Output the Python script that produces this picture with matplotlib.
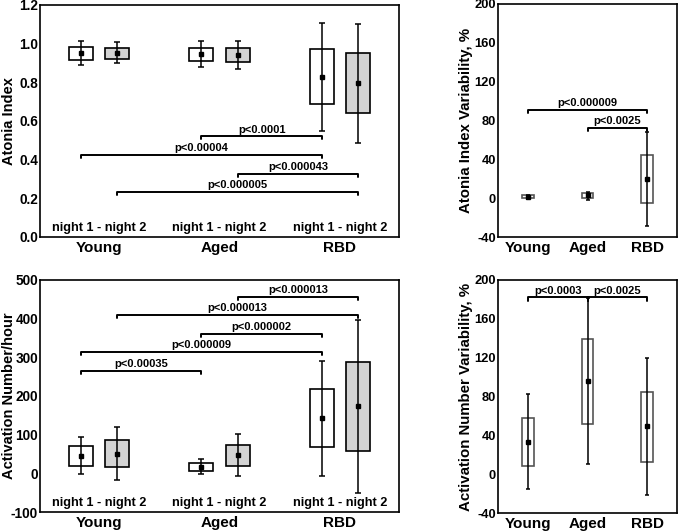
import matplotlib
matplotlib.use('Agg')
import matplotlib.pyplot as plt
import numpy as np

plt.rcParams['font.family'] = ['Liberation Sans', 'DejaVu Sans']
plt.rcParams['font.weight'] = 'bold'

groups = ['Young', 'Aged', 'RBD']

# Atonia index, night 1 / night 2
ai_n1_mean = [0.952, 0.946, 0.827]
ai_n1_blo = [0.917, 0.910, 0.686]
ai_n1_bhi = [0.983, 0.979, 0.972]
ai_n1_wlo = [0.888, 0.877, 0.549]
ai_n1_whi = [1.014, 1.014, 1.107]
ai_n2_mean = [0.952, 0.941, 0.796]
ai_n2_blo = [0.922, 0.903, 0.639]
ai_n2_bhi = [0.979, 0.979, 0.950]
ai_n2_wlo = [0.900, 0.869, 0.487]
ai_n2_whi = [1.007, 1.014, 1.100]

# Activation number/hour, night 1 / night 2
an_n1_mean = [46, 17.6, 142]
an_n1_blo = [20, 7, 67]
an_n1_bhi = [71, 26, 217]
an_n1_wlo = [-3, -1, -6]
an_n1_whi = [95, 36, 290]
an_n2_mean = [51, 47, 173]
an_n2_blo = [17, 19, 59]
an_n2_bhi = [86, 74, 287]
an_n2_wlo = [-16, -7, -51]
an_n2_whi = [119, 101, 396]

# variability, %
aiv_mean = [1.5, 2.8, 19.6]
aiv_blo = [0.3, 0.0, -5.0]
aiv_bhi = [2.8, 5.5, 44.7]
aiv_wlo = [-0.5, -1.7, -29.0]
aiv_whi = [3.5, 6.5, 68.0]
anv_mean = [33.4, 95.7, 49.2]
anv_blo = [8.6, 52.0, 13.0]
anv_bhi = [58.2, 139.0, 85.0]
anv_wlo = [-15.0, 10.0, -21.0]
anv_whi = [82.6, 181.4, 119.4]

# brackets: ((group, night), (group, night), y, text)
ai_brackets = [((1, 0), (2, 0), 0.52, 'p<0.0001'),
               ((0, 0), (2, 0), 0.423, 'p<0.00004'),
               ((1, 1), (2, 1), 0.328, 'p<0.000043'),
               ((0, 1), (2, 1), 0.233, 'p<0.000005')]
an_brackets = [((0, 0), (1, 0), 265, 'p<0.00035'),
               ((0, 0), (2, 0), 314, 'p<0.000009'),
               ((1, 0), (2, 0), 361, 'p<0.000002'),
               ((0, 1), (2, 1), 410, 'p<0.000013'),
               ((1, 1), (2, 1), 457, 'p<0.000013')]
aiv_brackets = [(0, 2, 91, 'p<0.000009'), (1, 2, 72, 'p<0.0025')]
anv_brackets = [(0, 1, 182, 'p<0.0003'), (1, 2, 182, 'p<0.0025')]

W, H = 678, 532
fig = plt.figure(figsize=(W / 100, H / 100), dpi=100)


def add_ax(l, t, r, b):
    return fig.add_axes([l / W, 1 - b / H, (r - l) / W, (b - t) / H])


ax1 = add_ax(40, 5, 399, 237)
ax2 = add_ax(498, 4, 677, 237)
ax3 = add_ax(40, 280, 399, 512)
ax4 = add_ax(498, 280, 677, 513)

off = 0.15
gx = np.arange(3)


def boxes(ax, x, mean, blo, bhi, wlo, whi, fill, edge, ms, cap):
    mean, blo, bhi = np.array(mean), np.array(blo), np.array(bhi)
    ax.bar(x, bhi - blo, bottom=blo, width=0.2, color=fill, edgecolor=edge,
           linewidth=1.2, zorder=2)
    ax.errorbar(x, mean, yerr=[mean - np.array(wlo), np.array(whi) - mean],
                fmt='s', color='k', ms=ms, capsize=cap, elinewidth=1.1,
                capthick=1.1, zorder=3)


def bracket(ax, x1, x2, y, txt, fs=8):
    lo, hi = ax.get_ylim()
    d = 0.013 * (hi - lo)
    ax.plot([x1, x1, x2, x2], [y - d, y, y, y - d], color='k', lw=1.4,
            zorder=4, solid_capstyle='round')
    ax.text((x1 + x2) / 2, y + 0.6 * d, txt, ha='center', va='bottom',
            fontsize=fs, fontweight='bold')


def style(ax, ylim, yticks, fmt, ls):
    ax.set_ylim(*ylim)
    ax.set_yticks(yticks)
    ax.set_yticklabels([fmt.format(v) for v in yticks])
    ax.set_xticks(gx)
    ax.set_xticklabels(groups, fontsize=11, fontweight='bold')
    ax.tick_params(axis='y', length=0, pad=1.5, labelsize=ls)
    ax.tick_params(axis='x', length=0, pad=3)
    for s in ax.spines.values():
        s.set_linewidth(1.2)


# left panels
for ax, d, br, ylim, yt, fmt, lab in [
        (ax1, (ai_n1_mean, ai_n1_blo, ai_n1_bhi, ai_n1_wlo, ai_n1_whi,
               ai_n2_mean, ai_n2_blo, ai_n2_bhi, ai_n2_wlo, ai_n2_whi),
         ai_brackets, (0, 1.2), np.arange(0, 1.21, 0.2), '{:.1f}', 'Atonia Index'),
        (ax3, (an_n1_mean, an_n1_blo, an_n1_bhi, an_n1_wlo, an_n1_whi,
               an_n2_mean, an_n2_blo, an_n2_bhi, an_n2_wlo, an_n2_whi),
         an_brackets, (-100, 500), np.arange(-100, 501, 100), '{:.0f}',
         'Activation Number/hour')]:
    ax.set_xlim(-0.49, 2.49)
    style(ax, ylim, yt, fmt, 9.8)
    boxes(ax, gx - off, *d[:5], 'white', 'k', 3.5, 2.5)
    boxes(ax, gx + off, *d[5:], '#d3d3d3', 'k', 3.5, 2.5)
    for (g1, n1), (g2, n2), y, t in br:
        bracket(ax, g1 + (n1 * 2 - 1) * off, g2 + (n2 * 2 - 1) * off, y, t)
    for g in gx:
        ax.text(g, 0.012, 'night 1 - night 2', transform=ax.get_xaxis_transform(),
                ha='center', va='bottom', fontsize=9.2, fontweight='bold')
    ax.set_ylabel(lab, fontsize=10.5, fontweight='bold')
    ax.yaxis.set_label_coords(-0.066, 0.5)

# right panels
for ax, d, br, lab in [
        (ax2, (aiv_mean, aiv_blo, aiv_bhi, aiv_wlo, aiv_whi), aiv_brackets,
         'Atonia Index Variability, %'),
        (ax4, (anv_mean, anv_blo, anv_bhi, anv_wlo, anv_whi), anv_brackets,
         'Activation Number Variability, %')]:
    ax.set_xlim(-0.5, 2.5)
    style(ax, (-40, 200), np.arange(-40, 201, 40), '{:.0f}', 9.3)
    boxes(ax, gx, *d, 'none', '#555555', 2.4, 1.5)
    for g1, g2, y, t in br:
        bracket(ax, g1, g2, y, t)
    ax.set_ylabel(lab, fontsize=10.8, fontweight='bold')
    ax.yaxis.set_label_coords(-0.142, 0.5)

fig.savefig('out.png', dpi=100)
